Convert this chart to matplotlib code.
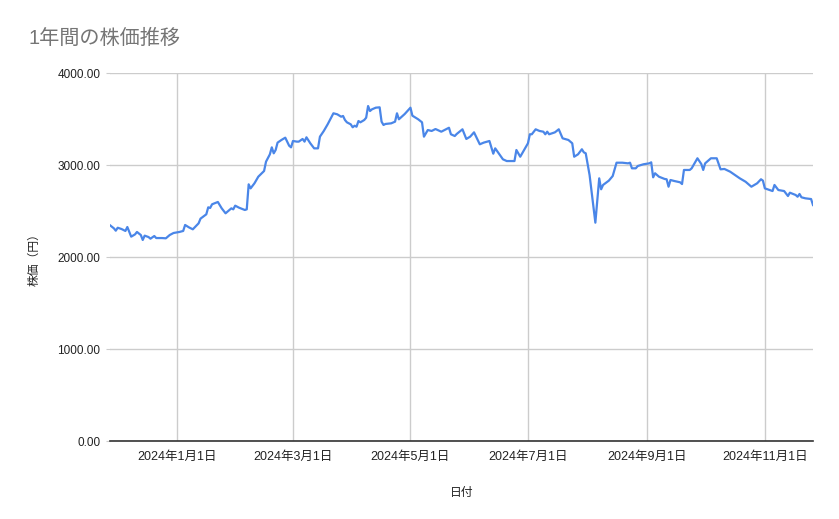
import numpy as np
import matplotlib
matplotlib.use("Agg")
import matplotlib.pyplot as plt
import matplotlib.dates as mdates
from matplotlib.ticker import FuncFormatter, FixedLocator

plt.rcParams['font.family'] = ['Liberation Sans', 'Noto Sans CJK JP', 'DejaVu Sans']

title = "1年間の株価推移"
x_label = "日付"
y_label = "株価（円）"

dates = [
    "2023-11-27", "2023-11-29", "2023-11-30", "2023-12-01", "2023-12-03", "2023-12-05",
    "2023-12-06", "2023-12-08", "2023-12-10", "2023-12-11", "2023-12-13", "2023-12-14",
    "2023-12-15", "2023-12-17", "2023-12-18", "2023-12-20", "2023-12-21", "2023-12-24",
    "2023-12-26", "2023-12-28", "2023-12-30", "2024-01-02", "2024-01-04", "2024-01-05",
    "2024-01-07", "2024-01-09", "2024-01-12", "2024-01-13", "2024-01-16", "2024-01-17",
    "2024-01-18", "2024-01-19", "2024-01-22", "2024-01-24", "2024-01-26", "2024-01-28",
    "2024-01-29", "2024-01-30", "2024-01-31", "2024-02-02", "2024-02-05", "2024-02-06",
    "2024-02-07", "2024-02-08", "2024-02-10", "2024-02-12", "2024-02-15", "2024-02-16",
    "2024-02-18", "2024-02-19", "2024-02-20", "2024-02-21", "2024-02-22", "2024-02-24",
    "2024-02-26", "2024-02-28", "2024-02-29", "2024-03-01", "2024-03-03", "2024-03-04",
    "2024-03-06", "2024-03-07", "2024-03-08", "2024-03-10", "2024-03-12", "2024-03-14",
    "2024-03-15", "2024-03-17", "2024-03-19", "2024-03-22", "2024-03-24", "2024-03-26",
    "2024-03-27", "2024-03-28", "2024-03-29", "2024-03-31", "2024-04-01", "2024-04-02",
    "2024-04-03", "2024-04-04", "2024-04-05", "2024-04-07", "2024-04-08", "2024-04-09",
    "2024-04-10", "2024-04-11", "2024-04-13", "2024-04-15", "2024-04-16", "2024-04-17",
    "2024-04-18", "2024-04-21", "2024-04-23", "2024-04-24", "2024-04-25", "2024-04-28",
    "2024-05-01", "2024-05-02", "2024-05-05", "2024-05-07", "2024-05-08", "2024-05-10",
    "2024-05-12", "2024-05-14", "2024-05-17", "2024-05-21", "2024-05-22", "2024-05-24",
    "2024-05-25", "2024-05-28", "2024-05-30", "2024-06-01", "2024-06-03", "2024-06-06",
    "2024-06-08", "2024-06-11", "2024-06-13", "2024-06-14", "2024-06-18", "2024-06-20",
    "2024-06-24", "2024-06-25", "2024-06-27", "2024-07-01", "2024-07-02", "2024-07-03",
    "2024-07-05", "2024-07-07", "2024-07-09", "2024-07-10", "2024-07-11", "2024-07-12",
    "2024-07-15", "2024-07-17", "2024-07-19", "2024-07-22", "2024-07-24", "2024-07-25",
    "2024-07-27", "2024-07-29", "2024-07-30", "2024-07-31", "2024-08-02", "2024-08-05",
    "2024-08-07", "2024-08-08", "2024-08-09", "2024-08-12", "2024-08-14", "2024-08-16",
    "2024-08-19", "2024-08-22", "2024-08-23", "2024-08-24", "2024-08-26", "2024-08-27",
    "2024-08-30", "2024-09-02", "2024-09-03", "2024-09-04", "2024-09-05", "2024-09-07",
    "2024-09-10", "2024-09-11", "2024-09-12", "2024-09-13", "2024-09-15", "2024-09-18",
    "2024-09-19", "2024-09-20", "2024-09-23", "2024-09-24", "2024-09-27", "2024-09-29",
    "2024-09-30", "2024-10-01", "2024-10-04", "2024-10-07", "2024-10-09", "2024-10-11",
    "2024-10-14", "2024-10-17", "2024-10-19", "2024-10-22", "2024-10-25", "2024-10-28",
    "2024-10-30", "2024-10-31", "2024-11-01", "2024-11-05", "2024-11-06", "2024-11-08",
    "2024-11-11", "2024-11-13", "2024-11-14", "2024-11-17", "2024-11-18", "2024-11-19",
    "2024-11-20", "2024-11-22", "2024-11-25", "2024-11-26",
]

prices = [
    2345, 2312, 2286, 2318, 2304, 2283,
    2326, 2221, 2246, 2272, 2239, 2185,
    2232, 2217, 2199, 2228, 2206, 2206,
    2203, 2239, 2261, 2272, 2283, 2348,
    2322, 2301, 2366, 2417, 2464, 2540,
    2533, 2573, 2598, 2529, 2475, 2511,
    2529, 2518, 2558, 2536, 2511, 2518,
    2790, 2746, 2801, 2873, 2935, 3036,
    3116, 3192, 3127, 3163, 3243, 3272,
    3297, 3210, 3192, 3261, 3254, 3254,
    3283, 3254, 3301, 3236, 3181, 3181,
    3308, 3370, 3442, 3562, 3551, 3525,
    3533, 3489, 3464, 3442, 3410, 3427,
    3416, 3478, 3464, 3489, 3514, 3641,
    3587, 3605, 3623, 3627, 3471, 3435,
    3446, 3453, 3471, 3562, 3497, 3554,
    3623, 3536, 3497, 3464, 3308, 3380,
    3370, 3391, 3362, 3405, 3334, 3315,
    3337, 3388, 3283, 3308, 3355, 3225,
    3243, 3261, 3123, 3181, 3062, 3043,
    3043, 3163, 3090, 3236, 3334, 3334,
    3388, 3370, 3362, 3334, 3362, 3334,
    3355, 3388, 3290, 3272, 3236, 3090,
    3116, 3171, 3138, 3127, 2891, 2373,
    2855, 2736, 2783, 2830, 2880, 3025,
    3025, 3018, 3025, 2964, 2964, 2989,
    3008, 3018, 3029, 2866, 2910, 2873,
    2848, 2845, 2764, 2837, 2826, 2812,
    2793, 2946, 2946, 2964, 3073, 3011,
    2946, 3018, 3073, 3073, 2953, 2957,
    2927, 2884, 2855, 2818, 2764, 2801,
    2845, 2830, 2746, 2717, 2783, 2728,
    2717, 2663, 2699, 2674, 2655, 2685,
    2649, 2638, 2630, 2565,
]

y_ticks = [0, 1000, 2000, 3000, 4000]
tick_months = [1, 3, 5, 7, 9, 11]

x = np.array(dates, dtype="datetime64[D]")
y = np.array(prices)

fig = plt.figure(figsize=(8.39, 5.19), dpi=100)
ax = fig.add_axes([110 / 839, 1 - 441 / 519, 703 / 839, 368 / 519])

ax.plot(x, y, color="#4a86e8", lw=1.6, solid_joinstyle="round")

ax.set_xlim(x[0], x[-1])
ax.set_ylim(0, 4000)

ax.yaxis.set_major_locator(FixedLocator(y_ticks))
ax.yaxis.set_major_formatter(FuncFormatter(lambda v, p: f"{v:.2f}"))
ax.xaxis.set_major_locator(mdates.MonthLocator(bymonth=tick_months, bymonthday=1))
ax.xaxis.set_major_formatter(FuncFormatter(
    lambda v, p: "{0}年{1}月{2}日".format(mdates.num2date(v).year, mdates.num2date(v).month, mdates.num2date(v).day)))

ax.grid(True, color="#cccccc", lw=1)
ax.set_axisbelow(True)
for s in ["top", "right", "left"]:
    ax.spines[s].set_visible(False)
ax.spines["bottom"].set_color("#333333")
ax.spines["bottom"].set_linewidth(1.2)
ax.spines["bottom"].set_zorder(3)

ax.tick_params(axis="y", length=3, color="#cccccc", pad=4, labelsize=8.5, labelcolor="#222222")
ax.tick_params(axis="x", length=0, pad=7, labelsize=9, labelcolor="#222222")

ax.set_xlabel(x_label, fontsize=8.5, color="#222222")
ax.xaxis.set_label_coords(0.5, -0.125)
ax.set_ylabel(y_label, fontsize=8.5, color="#222222")
ax.yaxis.set_label_coords(-0.099, 0.5)

fig.text(28 / 839, 1 - 38 / 519, title, fontsize=14.5, color="#757575", va="center", ha="left")

fig.savefig("out.png", dpi=100)
